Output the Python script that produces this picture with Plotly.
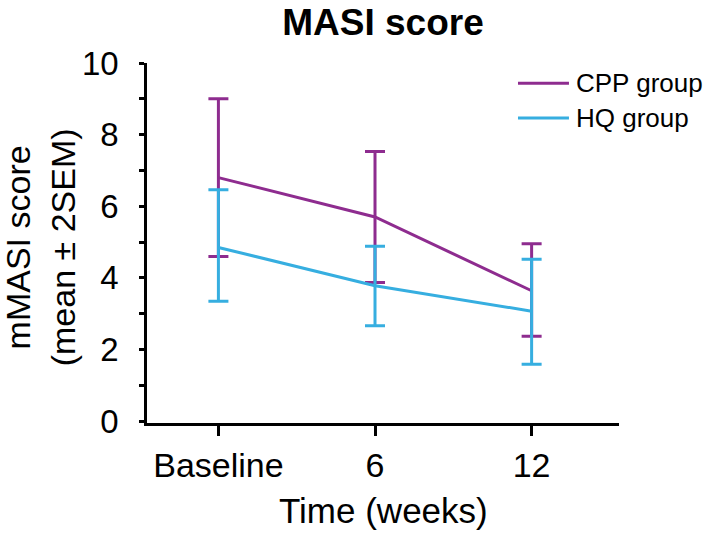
import plotly.graph_objects as go

time_labels = ["Baseline", "6", "12"]
cpp_mean = [6.8, 5.7, 3.64]
cpp_err_plus = [2.2, 1.83, 1.31]
cpp_err_minus = [2.2, 1.83, 1.27]
hq_mean = [4.85, 3.78, 3.07]
hq_err_plus = [1.61, 1.1, 1.45]
hq_err_minus = [1.5, 1.12, 1.48]
series_names = ["CPP group", "HQ group"]

PURPLE = "#8E2C8F"
CYAN = "#36AEE0"
FONT = "Liberation Sans, Arial, Helvetica, sans-serif"

fig = go.Figure()
fig.add_trace(go.Scatter(
    x=time_labels, y=cpp_mean, mode="lines", name=series_names[0],
    line=dict(color=PURPLE, width=3), showlegend=False,
    error_y=dict(type="data", symmetric=False, array=cpp_err_plus,
                 arrayminus=cpp_err_minus, color=PURPLE, thickness=3, width=10),
))
fig.add_trace(go.Scatter(
    x=time_labels, y=hq_mean, mode="lines", name=series_names[1],
    line=dict(color=CYAN, width=3), showlegend=False,
    error_y=dict(type="data", symmetric=False, array=hq_err_plus,
                 arrayminus=hq_err_minus, color=CYAN, thickness=3, width=10),
))

# legend drawn as short line samples + labels (paper coordinates)
legend_rows = [(series_names[0], PURPLE, 0.944), (series_names[1], CYAN, 0.847)]
for name, col, yy in legend_rows:
    fig.add_shape(type="line", xref="paper", yref="paper", x0=0.786, x1=0.894,
                  y0=yy, y1=yy, line=dict(color=col, width=3))
    fig.add_annotation(text=name, xref="paper", yref="paper", x=0.905, y=yy,
                       xanchor="left", yanchor="middle", showarrow=False,
                       font=dict(size=26, family=FONT, color="black"))

# axis titles
fig.add_annotation(text="Time (weeks)", xref="paper", yref="paper", x=0.5, y=-0.244,
                   xanchor="center", yanchor="middle", showarrow=False,
                   font=dict(size=35, family=FONT, color="black"))
fig.add_annotation(text="mMASI score<br>(mean ± 2SEM)", xref="paper", yref="paper",
                   x=-0.226, y=0.489, xanchor="center", yanchor="middle", textangle=-90,
                   showarrow=False, font=dict(size=34, family=FONT, color="black"))

fig.update_layout(
    width=709, height=542,
    margin=dict(l=147, r=90, t=63, b=119),
    paper_bgcolor="white", plot_bgcolor="white",
    font=dict(family=FONT, color="black", size=33),
    title=dict(text="<b>MASI score</b>", x=0.5, xref="paper", xanchor="center",
               y=0.96, yanchor="middle", font=dict(size=37, family=FONT, color="black")),
    showlegend=False,
    xaxis=dict(
        type="category", range=[-0.456, 2.558], automargin=False,
        showline=True, linecolor="black", linewidth=2.5, mirror=False,
        showgrid=False, zeroline=False,
        ticks="outside", ticklen=10, tickwidth=2.5, tickcolor="black",
        tickfont=dict(size=34, family=FONT, color="black"),
        ticklabelstandoff=0,
    ),
    yaxis=dict(
        range=[-0.053, 10], automargin=False,
        showline=True, linecolor="black", linewidth=2.5,
        showgrid=False, zeroline=False,
        tickmode="array", tickvals=[0, 2, 4, 6, 8, 10],
        ticks="outside", ticklen=5, tickwidth=2.5, tickcolor="black",
        tickfont=dict(size=33, family=FONT, color="black"),
        ticklabelstandoff=14,
        minor=dict(tickmode="array", tickvals=[1, 3, 5, 7, 9], ticks="outside",
                   ticklen=5, tickwidth=2.5, tickcolor="black", showgrid=False),
    ),
)

fig.write_html("out.html", config={"displayModeBar": False},
               post_script="document.body.style.margin='0px';document.body.style.overflow='hidden';")
